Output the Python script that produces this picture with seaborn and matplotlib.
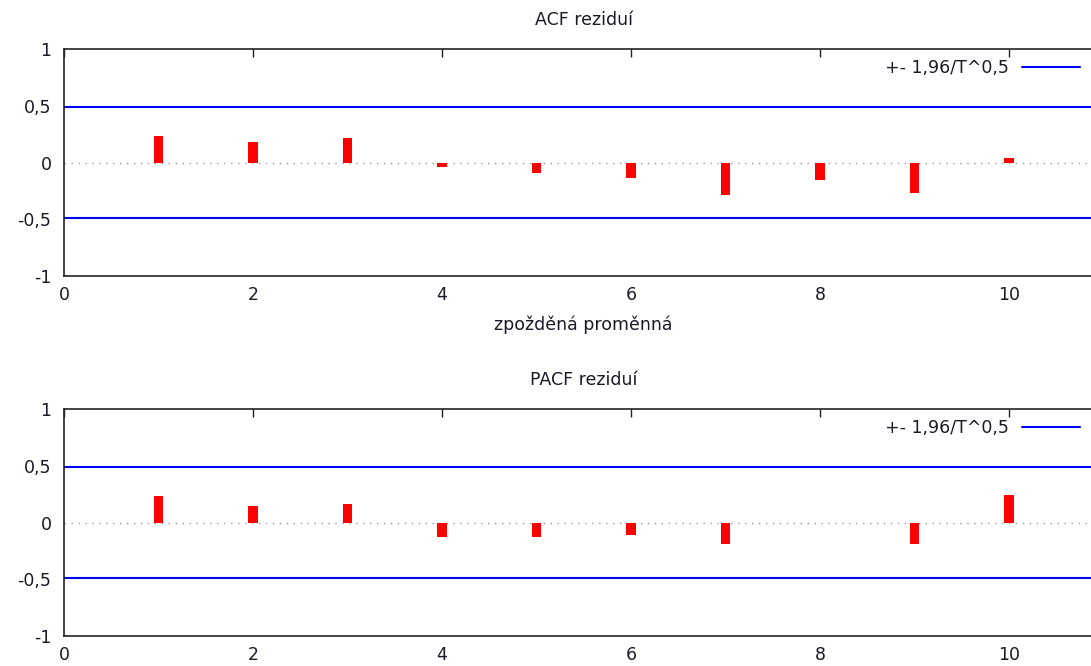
import numpy as np
import matplotlib
matplotlib.use("Agg")
import matplotlib.pyplot as plt
from matplotlib.lines import Line2D
from matplotlib.ticker import FuncFormatter
import seaborn as sns

lags = [1, 2, 3, 4, 5, 6, 7, 8, 9, 10]
acf_values = [0.236, 0.183, 0.213, -0.040, -0.095, -0.135, -0.286, -0.152, -0.269, 0.037]
pacf_values = [0.235, 0.147, 0.159, -0.132, -0.132, -0.106, -0.188, -0.005, -0.188, 0.241]
band = 0.49
titles = ["ACF reziduí", "PACF reziduí"]
xlabel_text = "zpožděná proměnná"
legend_label = "+- 1,96/T^0,5"
x_ticks = [0, 2, 4, 6, 8, 10]
y_ticks = [-1, -0.5, 0, 0.5, 1]

FS = 12.5
TXT = "#1c1828"

sns.set_style("white")
plt.rcParams["font.family"] = ["DejaVu Sans"]
plt.rcParams["font.size"] = FS

fig = plt.figure(figsize=(10.91, 6.66), dpi=100)
ax1 = fig.add_axes([64 / 1091, 1 - 276 / 666, 1039.5 / 1091, 227 / 666])
ax2 = fig.add_axes([64 / 1091, 1 - 636 / 666, 1039.5 / 1091, 227 / 666])

def fmt(v, pos):
    if abs(v - round(v)) < 1e-9:
        return f"{int(round(v))}"
    return f"{v:g}".replace(".", ",")

for ax, vals, title in [(ax1, acf_values, titles[0]), (ax2, pacf_values, titles[1])]:
    sns.barplot(x=lags, y=vals, native_scale=True, width=0.1, color="#ff0000",
                saturation=1, linewidth=0, ax=ax, errorbar=None)
    ax.axhline(0, color="#999999", lw=1, ls=(0, (1, 4)), zorder=0)
    ax.axhline(band, color="#0000ff", lw=1.5)
    ax.axhline(-band, color="#0000ff", lw=1.5)
    ax.set_xlim(0, 11)
    ax.set_ylim(-1, 1)
    ax.set_xticks(x_ticks)
    ax.set_yticks(y_ticks)
    ax.xaxis.set_major_formatter(FuncFormatter(fmt))
    ax.yaxis.set_major_formatter(FuncFormatter(fmt))
    ax.tick_params(axis="both", direction="in", length=6, width=1, color="#222222",
                   top=True, right=True, labelcolor=TXT, labelsize=FS)
    ax.tick_params(axis="x", pad=7.5)
    ax.tick_params(axis="y", pad=9)
    for s in ax.spines.values():
        s.set_visible(True)
        s.set_color("#222222")
        s.set_linewidth(1.2)
    ax.set_title(title, pad=17, color=TXT, fontsize=FS)
    ax.set_ylabel("")
    ax.set_xlabel("")
    h = Line2D([0], [0], color="#0000ff", lw=1.5)
    ax.legend([h], [legend_label], loc="upper right", bbox_to_anchor=(0.977, 0.955),
              frameon=False, markerfirst=False, handlelength=3.3, handletextpad=0.8,
              borderpad=0, borderaxespad=0, fontsize=FS, labelcolor=TXT)

ax1.set_xlabel(xlabel_text, labelpad=8, color=TXT, fontsize=FS)

fig.savefig("out.png", dpi=100)
